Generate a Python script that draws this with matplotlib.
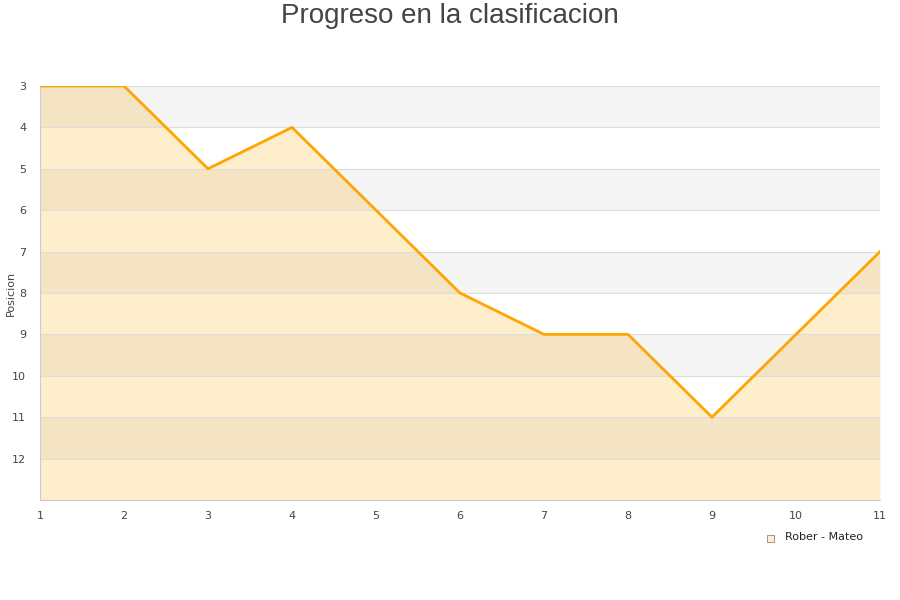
import matplotlib.pyplot as plt
from matplotlib.patches import Rectangle

jornadas = [1, 2, 3, 4, 5, 6, 7, 8, 9, 10, 11]
posicion = [3, 3, 5, 4, 6, 8, 9, 9, 11, 9, 7]
y_ticks = [3, 4, 5, 6, 7, 8, 9, 10, 11, 12]
serie = "Rober - Mateo"

fig = plt.figure(figsize=(9, 6), dpi=100)
ax = fig.add_axes([40 / 900, 100 / 600, 840 / 900, 414 / 600])

ax.fill_between(jornadas, posicion, 13, color="#ffeecc", lw=0, zorder=1)

# bandas alternas de fondo (encima del relleno, semitransparentes)
for i in range(3, 13, 2):
    ax.axhspan(i, i + 1, color="black", alpha=0.04, zorder=2, lw=0)
for i in range(3, 14):
    ax.axhline(i, color="#dddddd", lw=0.8, zorder=2)

ax.plot(jornadas, posicion, color="#ffa500", lw=2, zorder=3)

ax.set_xlim(1, 11)
ax.set_ylim(13, 3)
ax.set_xticks(jornadas)
ax.set_yticks(y_ticks)
ax.tick_params(length=0, labelsize=8, colors="#444444")
ax.tick_params(axis="x", pad=8)
ax.tick_params(axis="y", pad=10)
for s in ["top", "right"]:
    ax.spines[s].set_visible(False)
for s in ["left", "bottom"]:
    ax.spines[s].set_color("#cccccc")

fig.text(11 / 900, 1 - 293 / 600, "Posicion", rotation=90, fontsize=8,
         color="#444444", ha="center", va="center")

fig.text(0.5, 1 - 16 / 600, "Progreso en la clasificacion", ha="center", va="center",
         fontsize=20, color="#444444", family="Liberation Sans")

fig.patches.append(Rectangle((767 / 900, 1 - 542 / 600), 7 / 900, 7 / 600,
                             transform=fig.transFigure, facecolor="#ffeecc",
                             edgecolor="#888888", lw=0.6))
fig.text(785 / 900, 1 - 537 / 600, serie, fontsize=8, va="center", color="#222222")

fig.savefig("out.png")
